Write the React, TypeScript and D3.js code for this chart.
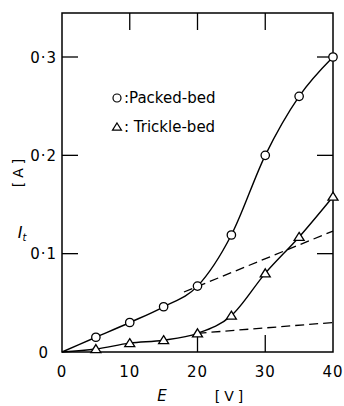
import React from "react";
import * as d3 from "d3";

const voltages = [0, 5, 10, 15, 20, 25, 30, 35, 40];
const packedBed = [0, 0.015, 0.03, 0.046, 0.067, 0.119, 0.2, 0.26, 0.3];
const trickleBed = [0, 0.003, 0.009, 0.012, 0.019, 0.037, 0.08, 0.117, 0.158];
const dashUpperE = [18, 40];
const dashUpperI = [0.061, 0.123];
const dashLowerE = [20, 40];
const dashLowerI = [0.019, 0.03];
const xTickLabels = [0, 10, 20, 30, 40];
const yTickValues = [0.1, 0.2, 0.3];
const yTickLabels = ["0·1", "0·2", "0·3"];
const topTicks = [10, 20, 30];
const bottomTicks = [20, 30];

const W = 344, H = 406;
const L = 62, R = 333, T = 13, B = 352;
const FONT = "'DejaVu Sans', sans-serif";

export default function App() {
  const x = d3.scaleLinear().domain([0, 40]).range([L, R]);
  const y = d3.scaleLinear().domain([0, 0.3]).range([B, 57]);
  const line = d3.line<[number, number]>().x(d => x(d[0])).y(d => y(d[1])).curve(d3.curveMonotoneX);
  const straight = d3.line<[number, number]>().x(d => x(d[0])).y(d => y(d[1]));
  const pk = voltages.map((v, i) => [v, packedBed[i]] as [number, number]);
  const tr = voltages.map((v, i) => [v, trickleBed[i]] as [number, number]);
  const du = dashUpperE.map((v, i) => [v, dashUpperI[i]] as [number, number]);
  const dl = dashLowerE.map((v, i) => [v, dashLowerI[i]] as [number, number]);
  const tri = (cx: number, cy: number, s: number) =>
    `M${cx},${cy - s * 0.9}L${cx + s},${cy + s * 0.7}L${cx - s},${cy + s * 0.7}Z`;
  return (
    <svg width={W} height={H} style={{ position: "absolute", left: 0, top: 0, background: "#fff" }} fontFamily={FONT}>
      <rect x={0} y={0} width={W} height={H} fill="#fff" />
      <rect x={L} y={T} width={R - L} height={B - T} fill="none" stroke="#000" strokeWidth={1.5} />
      {topTicks.map(t => (
        <line key={"tt" + t} x1={x(t)} x2={x(t)} y1={T} y2={T + 17} stroke="#000" strokeWidth={1.3} />
      ))}
      {bottomTicks.map(t => (
        <line key={"bt" + t} x1={x(t)} x2={x(t)} y1={B} y2={B - 17} stroke="#000" strokeWidth={1.3} />
      ))}
      {yTickValues.map(t => (
        <g key={"yt" + t}>
          <line x1={L} x2={L + 16} y1={y(t)} y2={y(t)} stroke="#000" strokeWidth={1.3} />
          <line x1={R} x2={R - 16} y1={y(t)} y2={y(t)} stroke="#000" strokeWidth={1.3} />
        </g>
      ))}
      {yTickValues.map((t, i) => (
        <text key={"yl" + t} x={L - 5} y={y(t) + 5.5} textAnchor="end" fontSize={15} letterSpacing={1}>{yTickLabels[i]}</text>
      ))}
      <text x={L - 14} y={y(0) + 5.5} textAnchor="end" fontSize={15}>0</text>
      {xTickLabels.map(t => (
        <text key={"xl" + t} x={x(t)} y={377} textAnchor="middle" fontSize={15} letterSpacing={1}>{t}</text>
      ))}
      <text x={162} y={401} textAnchor="middle" fontSize={15} fontStyle="italic">E</text>
      <text x={231} y={401} textAnchor="middle" fontSize={14} letterSpacing={4}>[V]</text>
      <text x={22} y={238} textAnchor="middle" fontSize={16} fontStyle="italic">I<tspan fontSize={10} dy={3}>t</tspan></text>
      <text transform="translate(23,171) rotate(-90)" textAnchor="middle" fontSize={14} letterSpacing={4}>[A]</text>

      <path d={straight(du) || ""} fill="none" stroke="#000" strokeWidth={1.3} strokeDasharray="9,5" />
      <path d={straight(dl) || ""} fill="none" stroke="#000" strokeWidth={1.3} strokeDasharray="9,5" />
      <path d={line(pk) || ""} fill="none" stroke="#000" strokeWidth={1.4} />
      <path d={line(tr) || ""} fill="none" stroke="#000" strokeWidth={1.4} />
      {pk.slice(1).map(d => (
        <circle key={"pc" + d[0]} cx={x(d[0])} cy={y(d[1])} r={4.2} fill="#fff" stroke="#000" strokeWidth={1.3} />
      ))}
      {tr.slice(1).map(d => (
        <path key={"tp" + d[0]} d={tri(x(d[0]), y(d[1]), 5)} fill="#fff" stroke="#000" strokeWidth={1.3} />
      ))}

      <circle cx={117} cy={98} r={4} fill="#fff" stroke="#000" strokeWidth={1.2} />
      <text x={124} y={103} fontSize={15}>:Packed-bed</text>
      <path d={tri(117, 127, 4.5)} fill="#fff" stroke="#000" strokeWidth={1.2} />
      <text x={124} y={132} fontSize={15}>: Trickle-bed</text>
    </svg>
  );
}
